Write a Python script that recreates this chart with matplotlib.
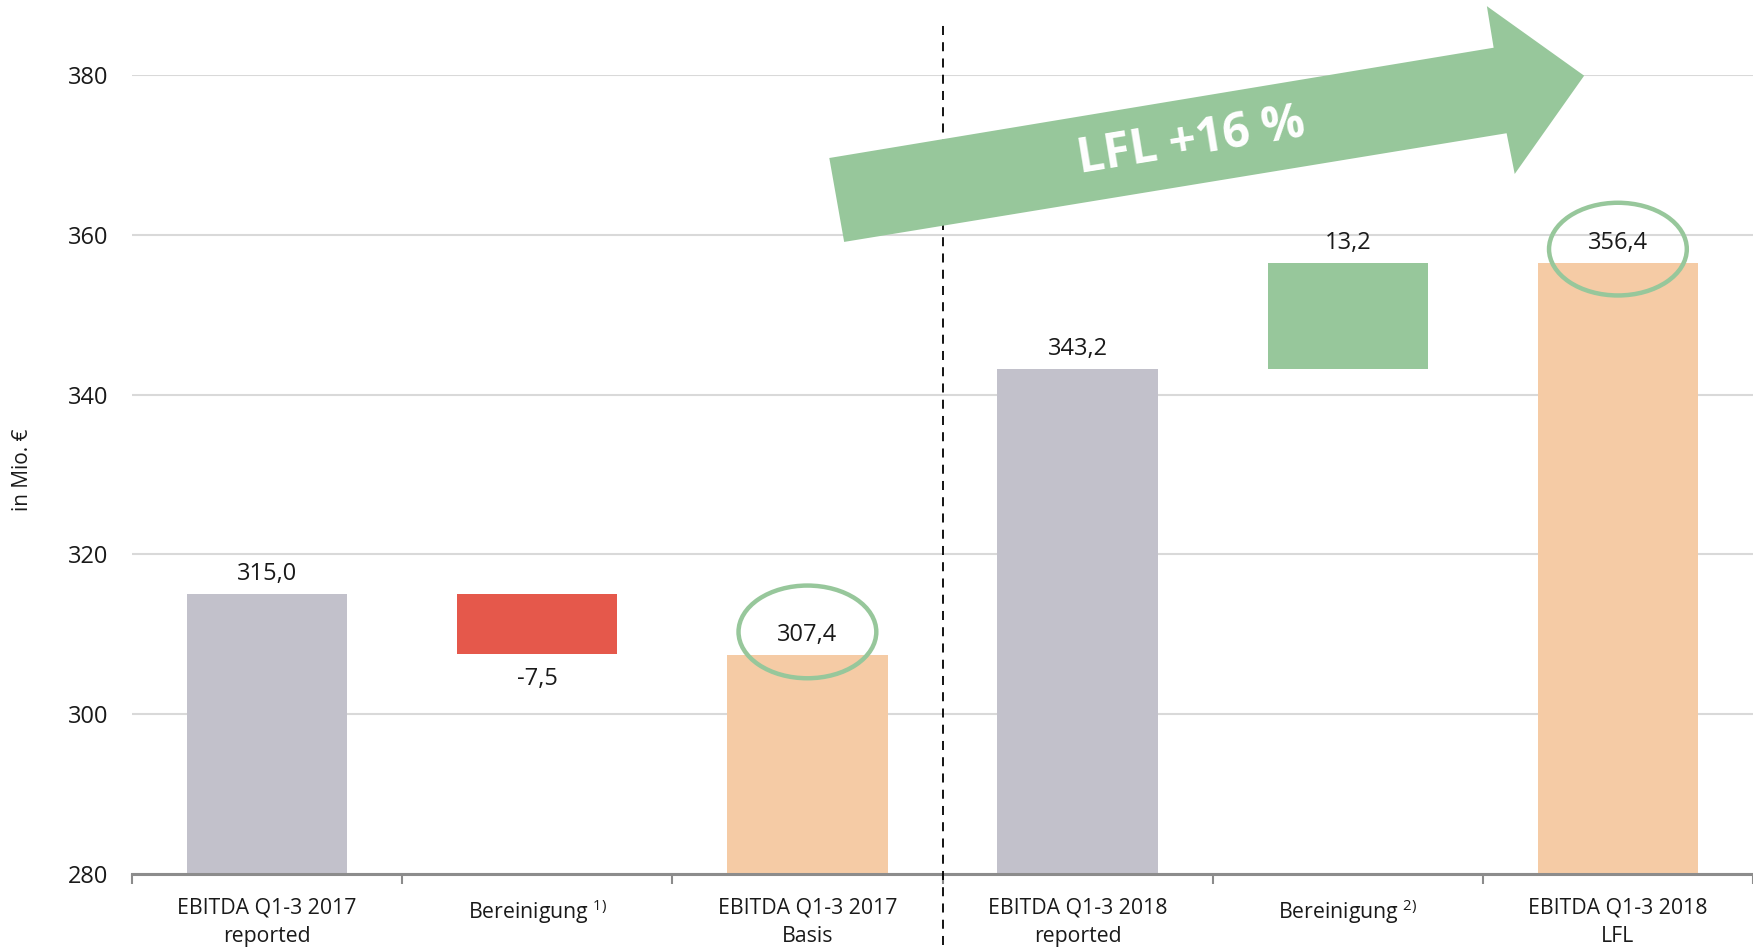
import matplotlib
matplotlib.use("Agg")
from matplotlib import pyplot as plt
from matplotlib.patches import Ellipse, Polygon

plt.rcParams["font.family"] = ["Open Sans", "DejaVu Sans"]
plt.rcParams["mathtext.fontset"] = "custom"
plt.rcParams["mathtext.rm"] = "Open Sans"
plt.rcParams["mathtext.it"] = "Open Sans"

categories = [
    "EBITDA Q1-3 2017\nreported",
    "Bereinigung $^{1)}$",
    "EBITDA Q1-3 2017\nBasis",
    "EBITDA Q1-3 2018\nreported",
    "Bereinigung $^{2)}$",
    "EBITDA Q1-3 2018\nLFL",
]
bar_bottoms = [280, 307.5, 280, 280, 343.2, 280]
bar_tops = [315.0, 315.0, 307.4, 343.2, 356.4, 356.4]
value_labels = ["315,0", "-7,5", "307,4", "343,2", "13,2", "356,4"]
label_below = [False, True, False, False, False, False]
colors = ["#C2C1CB", "#E5584B", "#F5CBA5", "#C2C1CB", "#97C79B", "#F5CBA5"]
highlighted = [2, 5]
yticks = [280, 300, 320, 340, 360, 380]

fig = plt.figure(figsize=(17.53, 9.48), dpi=100)
ax = fig.add_axes([0.0753, 0.078, 1 - 0.0753, 0.921 - 0.078])

x = range(len(categories))
heights = [t - b for t, b in zip(bar_tops, bar_bottoms)]
ax.bar(x, heights, bottom=bar_bottoms, width=0.593, color=colors, zorder=3)

for i, lab in enumerate(value_labels):
    if label_below[i]:
        ax.annotate(lab, (i, bar_bottoms[i]), xytext=(0, -17.5), textcoords="offset points",
                    ha="center", va="center", fontsize=17, color="#1a1a1a")
    else:
        ax.annotate(lab, (i, bar_tops[i]), xytext=(0, 14.5), textcoords="offset points",
                    ha="center", va="center", fontsize=17, color="#1a1a1a")

# circles round the key values
for i, dy in zip(highlighted, [2.9, 1.8]):
    ax.add_patch(Ellipse((i, bar_tops[i] + dy), 0.51, 11.6, fill=False,
                         edgecolor="#97C79B", lw=3.2, zorder=5, clip_on=False))

ax.set_xlim(-0.5, 5.46)
ax.set_ylim(280, 380)
ax.set_yticks(yticks)
ax.yaxis.grid(True, color="#D9D9D9", lw=1.5, zorder=0)
ax.tick_params(axis="y", length=0, pad=17, labelsize=17, labelcolor="#1a1a1a")

ax.set_xticks(list(x))
ax.set_xticklabels(categories, fontsize=15.3, linespacing=1.45, color="#1a1a1a")
ax.set_xticks([i - 0.5 for i in range(len(categories) + 1)], minor=True)
ax.tick_params(axis="x", which="major", length=0, pad=17)
ax.tick_params(axis="x", which="minor", length=7, width=1.5, color="#8C8C8C")

for s in ["top", "right", "left"]:
    ax.spines[s].set_visible(False)
ax.spines["bottom"].set_color("#8C8C8C")
ax.spines["bottom"].set_linewidth(2.2)
ax.spines["bottom"].set_zorder(4)

# divider between 2017 and 2018
ax.plot([2.5, 2.5], [-0.089, 1.0626], transform=ax.get_xaxis_transform(),
        color="black", lw=1.3, ls=(0, (5, 4)), clip_on=False, zorder=6)

# LFL arrow
arrow_pts = [(2.081, 369.6), (4.540, 383.4), (4.515, 388.6), (4.875, 379.9),
             (4.618, 367.6), (4.588, 372.7), (2.136, 359.1)]
ax.add_patch(Polygon(arrow_pts, closed=True, facecolor="#97C79B", edgecolor="none",
                     zorder=7, clip_on=False))
ax.text(3.42, 371.6, "LFL +16 %", rotation=9.3, rotation_mode="anchor",
        ha="center", va="center", fontsize=34.5, fontweight="bold", color="white", zorder=8)

fig.text(22 / 1753, 1 - 470 / 948, "in Mio. €", rotation=90, ha="center", va="center",
         fontsize=15, color="#1a1a1a")

plt.savefig("out.png", dpi=100)
